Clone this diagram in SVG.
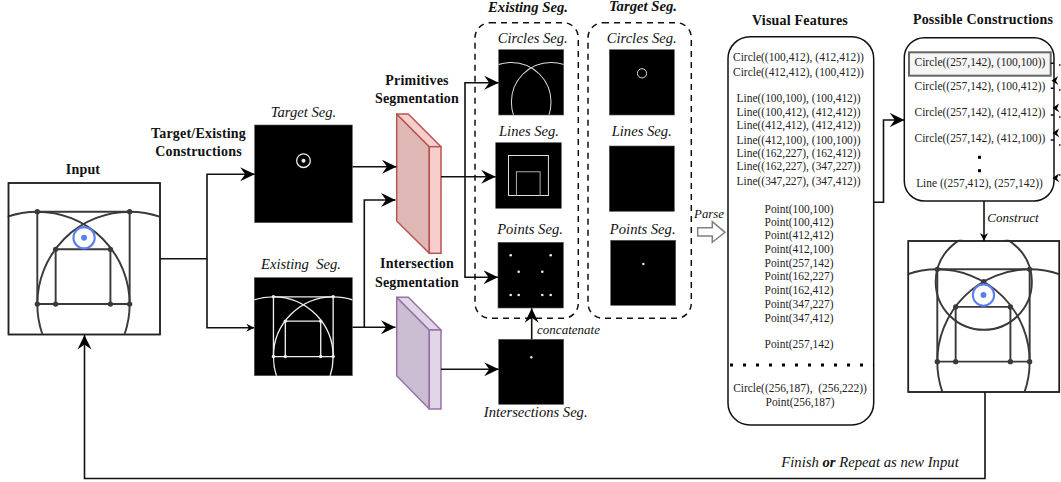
<svg xmlns="http://www.w3.org/2000/svg" xmlns:xlink="http://www.w3.org/1999/xlink" width="1061" height="482" viewBox="0 0 1061 482">
<style>
text{font-family:"Liberation Serif","Times New Roman",serif;fill:#111;text-anchor:middle}
.b{font-weight:bold;font-size:14px;letter-spacing:.2px}
.i{font-style:italic;font-size:14.600px}
.bi{font-style:italic;font-weight:bold;font-size:14.700px}
.t{font-size:11.450px;fill:#222}
.c{fill:none;stroke:#111;stroke-width:1.600}
.blk{fill:#000;stroke:#555;stroke-width:.6}
.dark{fill:none;stroke:#3a3a3a;stroke-width:6.500}
.w{fill:none;stroke:#eee;stroke-width:7}
.thin{fill:none;stroke:#ddd;stroke-width:8}
.frame{fill:#fff;stroke:#222;stroke-width:1.500}
.dash{fill:none;stroke:#111;stroke-width:1.500;stroke-dasharray:6 5}
</style>
<defs>
<marker id="big" markerUnits="userSpaceOnUse" markerWidth="16" markerHeight="16" refX="14.500" refY="8" orient="auto"><path d="M0 1L14.500 8L0 15L5 8Z" fill="#000"/></marker>
<marker id="small" markerUnits="userSpaceOnUse" markerWidth="10" markerHeight="10" refX="8" refY="5" orient="auto"><path d="M0 1L8 5L0 9L2.500 5Z" fill="#000"/></marker>
<clipPath id="clip"><rect width="512" height="512"/></clipPath>
<g id="circs"><circle cx="100" cy="412" r="312"/><circle cx="412" cy="412" r="312"/></g>
<path id="lines" d="M100 100H412V412H100ZM162 412V227H347V412"/>
<g id="pts"><circle cx="100" cy="100" r="9"/><circle cx="412" cy="100" r="9"/><circle cx="100" cy="412" r="9"/><circle cx="412" cy="412" r="9"/><circle cx="162" cy="227" r="9"/><circle cx="347" cy="227" r="9"/><circle cx="162" cy="412" r="9"/><circle cx="347" cy="412" r="9"/></g>
</defs>

<g id="input">
<rect class="frame" x="8.500" y="183" width="151.500" height="151.500"/>
<g transform="translate(7.700 182.100) scale(.296)"><g clip-path="url(#clip)">
<use xlink:href="#circs" href="#circs" class="dark"/><use xlink:href="#lines" href="#lines" class="dark"/><use xlink:href="#pts" href="#pts" fill="#3a3a3a"/>
<circle cx="258" cy="188" r="36" fill="none" stroke="#5b7ff0" stroke-width="7"/><circle cx="258" cy="188" r="10" fill="#5b7ff0"/>
</g></g>
<rect x="8.500" y="183" width="151.500" height="151.500" fill="none" stroke="#222" stroke-width="1.500"/>
<text class="b" x="83" y="174">Input</text>
</g>

<g id="target-seg">
<text class="b" x="198.500" y="138">Target/Existing</text><text class="b" x="198.500" y="156">Constructions</text>
<text class="i" x="303.500" y="117">Target Seg.</text>
<rect class="blk" x="254.700" y="125" width="97.600" height="97.700"/>
<circle cx="303.500" cy="160.700" r="6.800" fill="none" stroke="#eee" stroke-width="1.300"/><circle cx="303.500" cy="160.700" r="2" fill="#eee"/>
</g>

<g id="existing-seg">
<text class="i" x="301" y="269" xml:space="preserve">Existing  Seg.</text>
<rect class="blk" x="254.300" y="277.700" width="98" height="98"/>
<g transform="translate(254.300 277.700) scale(.1914)"><g clip-path="url(#clip)"><use xlink:href="#circs" href="#circs" class="w"/><use xlink:href="#lines" href="#lines" class="w"/><use xlink:href="#pts" href="#pts" fill="#eee"/></g></g>
</g>

<g id="primitives">
<text class="b" x="417" y="85">Primitives</text><text class="b" x="417" y="103">Segmentation</text>
<path d="M396.700 114L429.300 146.700V253.300L396.700 221Z" fill="#dfb8b6" stroke="#b85450" stroke-width="1.500" stroke-linejoin="round"/>
<path d="M396.700 114H408.300L441 146.700H429.300Z" fill="#f8cecc" stroke="#b85450" stroke-width="1.500" stroke-linejoin="round"/>
<rect x="429.300" y="146.700" width="11.700" height="106.600" fill="#f8cecc" stroke="#b85450" stroke-width="1.500"/>
</g>

<g id="intersection">
<text class="b" x="417" y="268">Intersection</text><text class="b" x="417" y="287">Segmentation</text>
<path d="M396.700 297.300L429.300 330V409L396.700 375.700Z" fill="#cabdd1" stroke="#9673a6" stroke-width="1.500" stroke-linejoin="round"/>
<path d="M396.700 297.300H408.300L441 330H429.300Z" fill="#e1d5e7" stroke="#9673a6" stroke-width="1.500" stroke-linejoin="round"/>
<rect x="429.300" y="330" width="11.700" height="79" fill="#e1d5e7" stroke="#9673a6" stroke-width="1.500"/>
</g>

<g id="existing-group">
<rect class="dash" x="475" y="22.700" width="103.300" height="295.600" rx="15"/>
<text class="bi" x="528" y="12">Existing Seg.</text>
<text class="i" x="532.700" y="42.700">Circles Seg.</text>
<rect class="blk" x="498.700" y="49.700" width="65" height="65.300"/>
<g transform="translate(498.700 49.700) scale(.127)"><g clip-path="url(#clip)"><use xlink:href="#circs" href="#circs" class="thin"/></g></g>
<text class="i" x="529" y="136">Lines Seg.</text>
<rect class="blk" x="495.700" y="142.700" width="65.600" height="65.600"/>
<g transform="translate(495.700 142.700) scale(.128)" fill="none"><path d="M100 100H412V412H100Z" stroke="#ddd" stroke-width="8"/><path d="M162 412V227H347V412" stroke="#aaa" stroke-width="8"/></g>
<text class="i" x="530" y="234">Points Seg.</text>
<rect class="blk" x="498" y="242.300" width="65.300" height="65.700"/>
<g fill="#eee"><circle cx="510.700" cy="255.300" r="1.300"/><circle cx="550.700" cy="255.300" r="1.300"/><circle cx="518.700" cy="271.700" r="1.300"/><circle cx="542.300" cy="271.700" r="1.300"/><circle cx="510.700" cy="295" r="1.300"/><circle cx="518.700" cy="295" r="1.300"/><circle cx="542.300" cy="295" r="1.300"/><circle cx="550.700" cy="295" r="1.300"/></g>
</g>

<g id="target-group">
<rect class="dash" x="588" y="22.700" width="103.300" height="295.600" rx="15"/>
<text class="bi" x="643" y="11">Target Seg.</text>
<text class="i" x="641.700" y="42.700">Circles Seg.</text>
<rect class="blk" x="609.300" y="49.700" width="65" height="65.300"/>
<circle cx="642" cy="73.300" r="4.600" fill="none" stroke="#ddd" stroke-width="1"/>
<text class="i" x="641.700" y="136">Lines Seg.</text>
<rect class="blk" x="609.300" y="146" width="65" height="65.300"/>
<text class="i" x="642.700" y="234">Points Seg.</text>
<rect class="blk" x="610.700" y="240.300" width="65" height="65"/>
<circle cx="643.300" cy="264" r="1.200" fill="#eee"/>
</g>

<g id="intersections-seg">
<rect class="blk" x="498.700" y="339.300" width="65" height="65"/>
<circle cx="531.300" cy="357.300" r="1.200" fill="#eee"/>
<text class="i" x="535.700" y="417">Intersections Seg.</text>
<text class="i" x="568.500" y="334" style="font-size:13px">concatenate</text>
</g>

<g id="parse">
<text class="i" x="709" y="218" style="font-size:12.800px">Parse</text>
<path d="M697.700 227.700H712.300V221.700L725 232.300L712.300 242.300V236H697.700Z" fill="#fff" stroke="#808080" stroke-width="1.500"/>
</g>

<g id="visual-features">
<text class="b" x="800" y="25">Visual Features</text>
<rect x="728" y="36.700" width="145.700" height="388.300" rx="22" fill="#fff" stroke="#111" stroke-width="1.500"/>
<g class="list">
<text class="t" x="798.500" y="60.700">Circle((100,412), (412,412))</text>
<text class="t" x="798.500" y="75.700">Circle((412,412), (100,412))</text>
<text class="t" x="798.500" y="101.700">Line((100,100), (100,412))</text>
<text class="t" x="798.500" y="116">Line((100,412), (412,412))</text>
<text class="t" x="798.500" y="129.300">Line((412,412), (412,412))</text>
<text class="t" x="798.500" y="144.300">Line((412,100), (100,100))</text>
<text class="t" x="798.500" y="157.300">Line((162,227), (162,412))</text>
<text class="t" x="798.500" y="170">Line((162,227), (347,227))</text>
<text class="t" x="798.500" y="185">Line((347,227), (347,412))</text>
<text class="t" x="799" y="212.700">Point(100,100)</text>
<text class="t" x="799" y="226">Point(100,412)</text>
<text class="t" x="799" y="239">Point(412,412)</text>
<text class="t" x="799" y="253.300">Point(412,100)</text>
<text class="t" x="799" y="266.700">Point(257,142)</text>
<text class="t" x="799" y="280">Point(162,227)</text>
<text class="t" x="799" y="294.300">Point(162,412)</text>
<text class="t" x="799" y="307.700">Point(347,227)</text>
<text class="t" x="799" y="322.300">Point(347,412)</text>
<text class="t" x="799" y="348.300">Point(257,142)</text>
<text class="t" x="800" y="391.700" xml:space="preserve">Circle((256,187),  (256,222))</text>
<text class="t" x="800" y="406">Point(256,187)</text>
</g>
<path d="M730 365H874" fill="none" stroke="#000" stroke-width="3" stroke-dasharray="3 10"/>
</g>

<g id="possible-constructions">
<text class="b" x="983" y="24.300">Possible Constructions</text>
<rect x="904.300" y="37.700" width="149.700" height="163.300" rx="20" fill="#fff" stroke="#111" stroke-width="1.500"/>
<rect x="909" y="52.300" width="141.700" height="23.400" fill="#f5f5f5" stroke="#666" stroke-width="2"/>
<text class="t" x="980" y="65.700">Circle((257,142), (100,100))</text>
<text class="t" x="980" y="90">Circle((257,142), (100,412))</text>
<text class="t" x="980" y="116">Circle((257,142), (412,412))</text>
<text class="t" x="980" y="141.700">Circle((257,142), (412,100))</text>
<text class="t" x="979.500" y="186.700">Line ((257,412), (257,142))</text>
<rect x="978" y="155.800" width="3" height="3" fill="#000"/><rect x="978" y="169.200" width="3" height="3" fill="#000"/>
</g>

<g id="output">
<rect class="frame" x="908.300" y="241" width="151" height="151"/>
<g transform="translate(907.700 239.700) scale(.296)"><g clip-path="url(#clip)">
<use xlink:href="#circs" href="#circs" class="dark"/><use xlink:href="#lines" href="#lines" class="dark"/><use xlink:href="#pts" href="#pts" fill="#3a3a3a"/>
<circle cx="257" cy="142" r="162.500" class="dark"/><circle cx="257" cy="142" r="9" fill="#3a3a3a"/>
<circle cx="256" cy="187" r="36" fill="none" stroke="#5b7ff0" stroke-width="7"/><circle cx="256" cy="187" r="10" fill="#5b7ff0"/>
</g></g>
<rect x="908.300" y="241" width="151" height="151" fill="none" stroke="#222" stroke-width="1.500"/>
</g>

<g id="connectors">
<path class="c" d="M160 258.700H207V174.300H254.700" marker-end="url(#big)"/>
<path class="c" d="M207 258.700V327.700H254.300" marker-end="url(#small)"/>
<path class="c" d="M352.500 166.700H396.500" marker-end="url(#big)"/>
<path class="c" d="M352.500 327.300H395.500" marker-end="url(#big)"/>
<path class="c" d="M364.300 327.300V200H395.500" marker-end="url(#big)"/>
<path class="c" d="M441 176.700H495.700" marker-end="url(#big)"/>
<path class="c" d="M465 176.700V82.700H498.700" marker-end="url(#big)"/>
<path class="c" d="M465 176.700V277.300H498" marker-end="url(#big)"/>
<path class="c" d="M441 369.300H498.700" marker-end="url(#big)"/>
<path class="c" d="M531.700 339.300V308.300" marker-end="url(#big)"/>
<path class="c" d="M873.700 202.300H883.500V120H904.300" marker-end="url(#big)"/>
<path class="c" d="M984 201V241" marker-end="url(#small)"/>
<path class="c" d="M985 392V478.500H84.500V335" marker-end="url(#big)"/>
<g id="loop-stubs" fill="none" stroke="#111" stroke-width="1.500">
<path d="M1050.700 63.300H1054M1050.700 88.300H1054M1050.700 115H1054M1050.700 140H1054"/>
<path d="M1059 65h1.500M1059 90h1.500M1059 117h1.500M1059 145h1.500M1059 175h1.500"/>
</g>
<path d="M1051.500 80.700L1058 76L1056 81L1058.500 85Z M1052.500 108L1059 103.500L1057 108.500L1059.500 112.500Z M1052.500 133L1059 128.500L1057 133.500L1059.500 137.500Z M1052.500 178L1059 173.500L1057 178.500L1059.500 182.500Z" fill="#000"/>
</g>

<g id="edge-labels">
<text class="i" x="1013" y="222" style="font-size:13px">Construct</text>
<text class="i" x="870" y="467" style="font-size:14.700px">Finish <tspan font-weight="bold">or</tspan> Repeat as new Input</text>
</g>
</svg>
